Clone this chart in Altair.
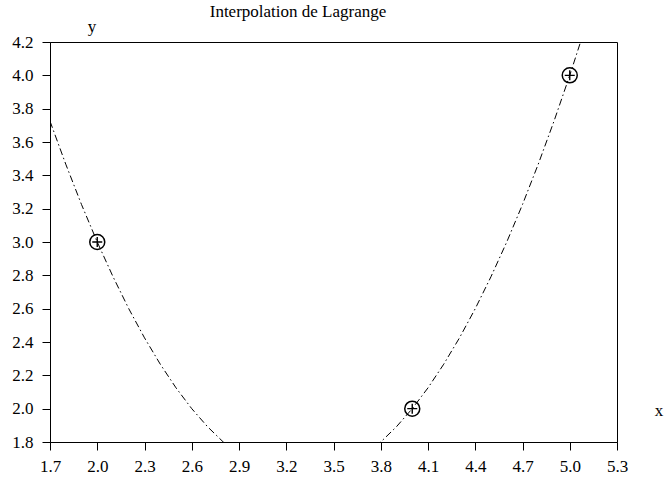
import altair as alt
import pandas as pd

# Interpolation nodes
node_x = [2.0, 4.0, 5.0]
node_y = [3.0, 2.0, 4.0]

# Interpolating curve
curve_x = [1.7, 1.8, 1.9, 2.0, 2.1, 2.2, 2.3, 2.4, 2.5, 2.6, 2.7, 2.8, 2.9, 3.0,
           3.1, 3.2, 3.3, 3.4, 3.5, 3.6, 3.7, 3.8, 3.9, 4.0, 4.1, 4.2, 4.3, 4.4,
           4.5, 4.6, 4.7, 4.8, 4.9, 5.0, 5.1]
curve_y = [3.725, 3.467, 3.225, 3.0, 2.792, 2.6, 2.425, 2.267, 2.125, 2.0, 1.892,
           1.8, 1.725, 1.667, 1.625, 1.6, 1.592, 1.6, 1.625, 1.667, 1.725, 1.8,
           1.892, 2.0, 2.125, 2.267, 2.425, 2.6, 2.792, 3.0, 3.225, 3.467, 3.725,
           4.0, 4.292]

x_ticks = [1.7, 2.0, 2.3, 2.6, 2.9, 3.2, 3.5, 3.8, 4.1, 4.4, 4.7, 5.0, 5.3]
y_ticks = [1.8, 2.0, 2.2, 2.4, 2.6, 2.8, 3.0, 3.2, 3.4, 3.6, 3.8, 4.0, 4.2]

title_text = "Interpolation de Lagrange"
x_label = "x"
y_label = "y"

FONT = "Liberation Serif"
W, H = 567, 400

curve = pd.DataFrame({"x": curve_x, "y": curve_y})
nodes = pd.DataFrame({"x": node_x, "y": node_y})

xs = alt.Scale(domain=[1.7, 5.3], nice=False, zero=False)
ys = alt.Scale(domain=[1.8, 4.2], nice=False, zero=False)

common = dict(format=".1f", title=None, grid=False, domainColor="black",
              tickColor="black", tickSize=8, labelFont=FONT, labelFontSize=17,
              labelColor="black", labelFlush=False, labelOverlap=False,
              labelBound=False)
xaxis = alt.Axis(values=x_ticks, labelPadding=8, **common)
yaxis = alt.Axis(values=y_ticks, labelPadding=9, **common)

line = alt.Chart(curve).mark_line(
    color="black", strokeWidth=1, strokeDash=[7, 3, 1.5, 3], clip=True
).encode(
    x=alt.X("x:Q", scale=xs, axis=xaxis),
    y=alt.Y("y:Q", scale=ys, axis=yaxis),
    order="x:Q",
)

circles = alt.Chart(nodes).mark_point(
    shape="circle", size=225, color="black", strokeWidth=1.5, filled=False,
    opacity=1
).encode(x=alt.X("x:Q", scale=xs, axis=xaxis), y=alt.Y("y:Q", scale=ys, axis=yaxis))

plus = alt.Chart(nodes).mark_point(
    shape="M-1,0L1,0M0,-1L0,1", size=100, color="black", strokeWidth=1.4,
    filled=False, opacity=1
).encode(x=alt.X("x:Q", scale=xs, axis=xaxis), y=alt.Y("y:Q", scale=ys, axis=yaxis))

title_mark = alt.Chart(pd.DataFrame({"t": [title_text]})).mark_text(
    font=FONT, fontSize=17, color="black", align="center", baseline="alphabetic"
).encode(text="t:N", x=alt.value(248), y=alt.value(-25))

ylab = alt.Chart(pd.DataFrame({"t": [y_label]})).mark_text(
    font=FONT, fontSize=17, color="black", align="center", baseline="alphabetic"
).encode(text="t:N", x=alt.value(42), y=alt.value(-10))

xlab = alt.Chart(pd.DataFrame({"t": [x_label]})).mark_text(
    font=FONT, fontSize=17, color="black", align="center", baseline="alphabetic"
).encode(text="t:N", x=alt.value(609), y=alt.value(374))

chart = alt.layer(line, circles, plus, title_mark, ylab, xlab).properties(
    width=W, height=H,
    autosize=alt.AutoSizeParams(type="none"),
    padding={"left": 50, "top": 42, "right": 47, "bottom": 35},
    background="white",
).configure_view(
    stroke="black", strokeWidth=1
).configure_axis(
    labelFont=FONT, labelFontSize=17
)

chart.save("out.html", embed_options={"renderer": "svg", "actions": False})
